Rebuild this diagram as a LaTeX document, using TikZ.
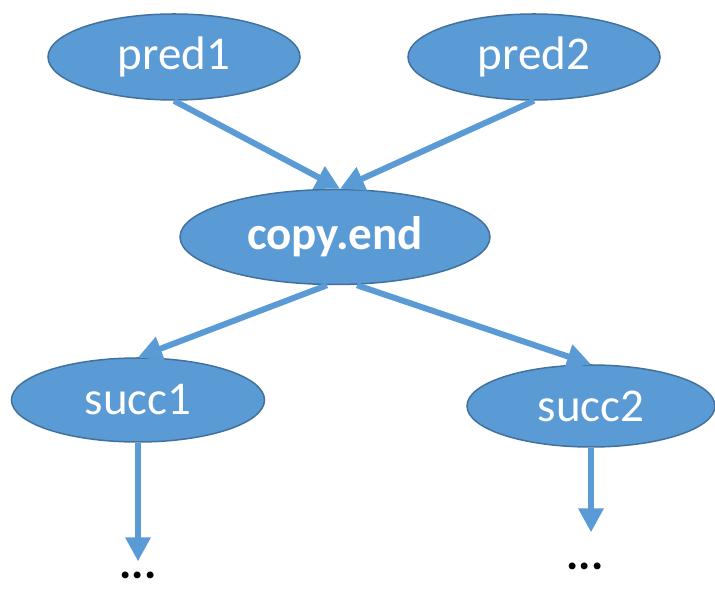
\documentclass[tikz,border=0pt]{standalone}
\usepackage{fontspec}
\setmainfont{Carlito}
\usetikzlibrary{shapes.geometric,arrows.meta}
\definecolor{nodeblue}{HTML}{5B9BD5}
\definecolor{rimblue}{HTML}{41719C}

\begin{document}
\begin{tikzpicture}[x=1pt, y=1pt,
    blk/.style={ellipse, draw=rimblue, line width=1.5pt, fill=nodeblue, text=white,
        inner sep=0pt, minimum width=252pt, minimum height=86pt,
        font=\fontsize{47}{52}\selectfont},
    flow/.style={draw=nodeblue, line width=6pt, -{Triangle[width=24pt,length=24pt]}},
    dotsnode/.style={font=\fontsize{46}{50}\selectfont\bfseries, inner sep=0pt}]
    % 1. page size
    \useasboundingbox (0,0) rectangle (715,591);

    % 2. blocks
    \node[blk] (pred1) at (174,534) {pred1};
    \node[blk] (pred2) at (534,534) {pred2};
    \node[blk, minimum width=310pt, minimum height=95pt] (copyend) at (335,354) {\bfseries copy.end};
    \node[blk, minimum width=253pt, minimum height=84pt] (succ1) at (138,191) {succ1};
    \node[blk, minimum width=248pt, minimum height=82pt] (succ2) at (591,185) {succ2};

    % 3. the elided rest
    \node[dotsnode] (dots1) at (138,16) {...};
    \node[dotsnode] (dots2) at (585,25) {...};

    % 4. edges
    \draw[flow] (pred1.south) -- ([xshift=5pt]copyend.north);
    \draw[flow] (pred2.south) -- ([xshift=5pt]copyend.north);
    \draw[flow] ([xshift=-8pt]copyend.south) -- (succ1.north);
    \draw[flow] ([xshift=22pt]copyend.south) -- (succ2.north);
    \draw[flow] (succ1.south) -- ([yshift=10pt]succ1.south |- dots1.north);
    \draw[flow] (succ2.south) -- ([yshift=30pt]succ2.south |- dots2.north);
\end{tikzpicture}
\end{document}
